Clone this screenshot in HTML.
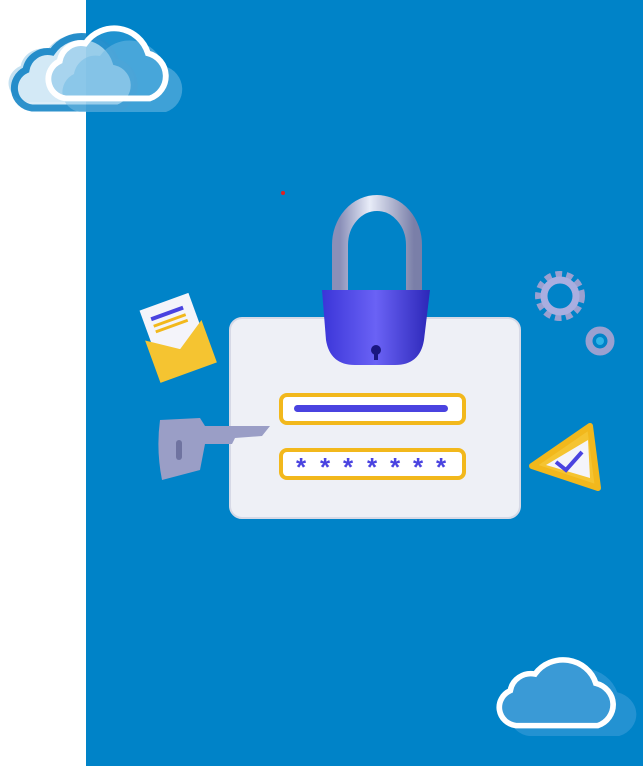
<!DOCTYPE html>
<html><head><style>
html,body{margin:0;padding:0;width:643px;height:766px;overflow:hidden;background:#fff}
</style></head><body>
<svg width="643" height="766" viewBox="0 0 643 766" xmlns="http://www.w3.org/2000/svg">
<defs>
<path id="cl" d="M20,80 A20,20 0 0 1 14,42 A22,22 0 0 1 40,24 A36,36 0 0 1 104,34 A24,24 0 0 1 106,80 Z"/>
<linearGradient id="lk" x1="0" x2="1"><stop offset="0" stop-color="#3b35d8"/><stop offset="0.5" stop-color="#6a62f5"/><stop offset="1" stop-color="#2c27b8"/></linearGradient>
<linearGradient id="sh" x1="0" x2="1"><stop offset="0" stop-color="#8a8fb8"/><stop offset="0.4" stop-color="#e8ecf8"/><stop offset="1" stop-color="#7a7fa8"/></linearGradient>
</defs>
<rect x="86" y="0" width="557" height="766" fill="#0083c8"/>
<g transform="translate(6,26) scale(1.05,0.95)"><use href="#cl" fill="#5aaad8" opacity="0.35"/></g>
<g transform="translate(12,28)"><use href="#cl" fill="#d6ebf7" opacity="0.85" stroke="#0a7fc4" stroke-width="7"/></g>
<g transform="translate(60,32)"><use href="#cl" fill="#7cc0e6" opacity="0.5"/></g>
<g transform="translate(46,20) scale(0.98,0.98)"><use href="#cl" fill="#5aaedf" fill-opacity="0.35" stroke="#fff" stroke-width="6"/></g>
<g transform="translate(508,660) scale(1.05,0.95)"><use href="#cl" fill="#3a9dd8" opacity="0.6"/></g>
<g transform="translate(497,652) scale(0.95,0.92)"><use href="#cl" fill="#3a9ad6" stroke="#fff" stroke-width="6"/></g>
<circle cx="283" cy="193" r="2" fill="#e02020"/>
<rect x="230" y="318" width="290" height="200" rx="12" fill="#eef0f6"/>
<rect x="230" y="318" width="290" height="200" rx="12" fill="none" stroke="#d6d9e6" stroke-width="2"/>
<rect x="281" y="395" width="183" height="28" rx="6" fill="#fff" stroke="#f2b81c" stroke-width="4"/>
<rect x="294" y="405" width="154" height="7" rx="3.5" fill="#4a43e0"/>
<rect x="281" y="450" width="183" height="28" rx="6" fill="#fff" stroke="#f2b81c" stroke-width="4"/>
<g font-family="Liberation Sans, sans-serif" font-size="26" font-weight="bold" fill="#4a43e0" text-anchor="middle">
<text x="301" y="476">*</text><text x="325" y="476">*</text><text x="348" y="476">*</text><text x="372" y="476">*</text><text x="395" y="476">*</text><text x="418" y="476">*</text><text x="441" y="476">*</text>
</g>
<path d="M340,295 V245 A37,42 0 0 1 414,245 V295" fill="none" stroke="url(#sh)" stroke-width="16"/>
<path d="M322,290 H430 L424,340 Q420,365 395,365 H355 Q330,365 326,340 Z" fill="url(#lk)"/>
<circle cx="376" cy="350" r="5" fill="#1a1780"/><rect x="374" y="350" width="4" height="10" fill="#1a1780"/>
<g transform="rotate(-20 175 335)">
<rect x="150" y="300" width="52" height="50" fill="#f4f4fa"/>
<rect x="158" y="310" width="34" height="4" fill="#4a43e0"/>
<rect x="158" y="318" width="34" height="3" fill="#f2b81c"/><rect x="158" y="324" width="34" height="3" fill="#f2b81c"/>
<path d="M145,330 L175,350 L205,330 V375 H145 Z" fill="#f5c431"/>
</g>
<path d="M160,420 L200,418 L205,426 L270,426 L262,436 L235,438 L232,444 L205,444 L200,470 L162,480 Q156,450 160,420 Z" fill="#9a9ec6"/>
<rect x="176" y="440" width="6" height="20" rx="3" fill="#6f73a0"/>
<circle cx="560" cy="296" r="20" fill="none" stroke="#9aa0d0" stroke-width="10" stroke-dasharray="6 4"/>
<circle cx="560" cy="296" r="16" fill="none" stroke="#a9aee0" stroke-width="7"/>
<circle cx="600" cy="341" r="11" fill="none" stroke="#9aa0d0" stroke-width="7"/>
<circle cx="600" cy="341" r="4" fill="#2db4e8"/>
<path d="M532,466 L590,426 L598,488 Z" fill="#f5c431" stroke="#f2b81c" stroke-width="6" stroke-linejoin="round"/>
<path d="M546,465 L588,440 L590,478 Z" fill="#f4f4fa"/>
<path d="M556,462 L566,470 L582,452" fill="none" stroke="#4a43e0" stroke-width="4"/>
</svg>
</body></html>
